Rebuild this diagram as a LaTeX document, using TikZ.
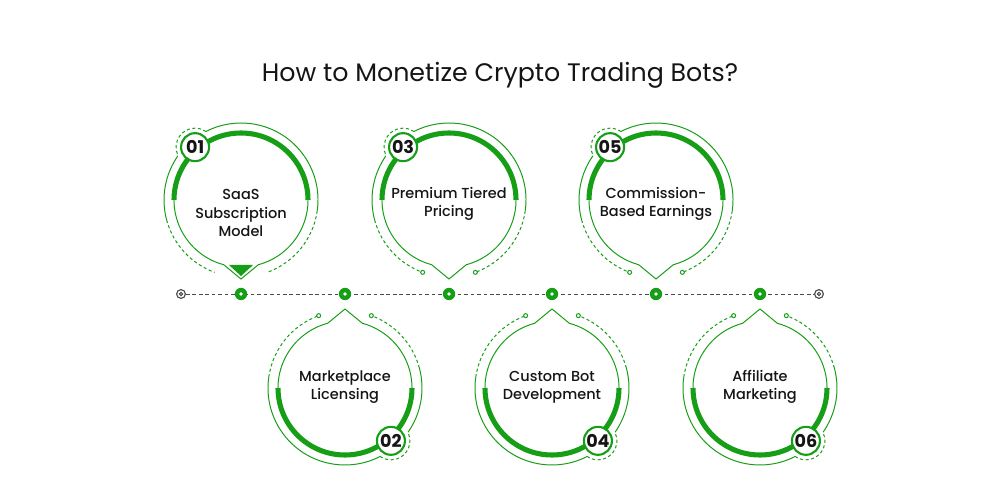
\documentclass[tikz,border=0pt]{standalone}
\usepackage{fontspec}
\setmainfont{Poppins}
\newfontface\medfont{Poppins Medium}
\usetikzlibrary{positioning}
\definecolor{cgreen}{HTML}{169E16}
\definecolor{cink}{HTML}{151515}
\definecolor{cline}{HTML}{4A4A4A}
\tikzset{
  every picture/.style={x=0.025cm, y=0.025cm},
  ring/.style={draw=cgreen, line width=0.7pt},
  ringdash/.style={ring, dash pattern=on 2.2pt off 1.8pt},
  band/.style={draw=cgreen, line width=3.6pt},
  badge/.style={circle, draw=cgreen, fill=white, line width=1.5pt, minimum size=0.7cm, inner sep=0pt,
                font=\bfseries\fontsize{12.5}{12.5}\selectfont, text=cink},
  label/.style={align=center, text=cink, font=\medfont\fontsize{10.3}{12.9}\selectfont},
  title/.style={text=cink, font=\fontsize{18}{21}\selectfont},
  dot/.style={circle, fill=cgreen, minimum size=0.31cm, inner sep=0pt,
              path picture={\fill[white] (path picture bounding box.center) circle (1.4pt);}},
  endmark/.style={circle, draw=cline, line width=0.8pt, minimum size=0.22cm, inner sep=0pt,
                  path picture={\draw[cline, line width=0.7pt] (path picture bounding box.center) circle (1.2pt);}},
  timeline/.style={draw=cline, line width=0.7pt, dash pattern=on 2.6pt off 2pt},
  pics/moneycard/.style n args={2}{code={
    % inner outline with pointer
    \draw[ring] (-75:67) arc[start angle=-75, end angle=255, radius=67] -- (0,-79) -- cycle;
    \draw[band] (0:67) arc[start angle=0, end angle=180, radius=67];
    % outer ring
    \draw[ring] (-8:77) arc[start angle=-8, end angle=117, radius=77];
    \draw[ring] (145:77) arc[start angle=145, end angle=195, radius=77];
    \draw[ringdash] (195:77) arc[start angle=195, end angle=250, radius=77];
    \draw[ringdash] (-8:77) arc[start angle=-8, end angle=-70, radius=77];
    \draw[ringdash] (131:70) ++(55:19) arc[start angle=55, end angle=207, radius=19];
    \ifnum#2=1
      \draw[ring, fill=white] (250:77) circle (2);
      \draw[ring, fill=white] (-70:77) circle (2);
    \else
      \fill[cgreen] (-12,-65) -- (12,-65) -- (0,-76) -- cycle;
    \fi
    \node[badge] (-badge) at (131:70) {#1};
  }},
}

\begin{document}
\begin{tikzpicture}
  \useasboundingbox[fill=white] (0,0) rectangle (1000,500);
  \node[title] (head) at (500,425) {How to Monetize Crypto Trading Bots?};

  % timeline
  \node[endmark] (lend) at (181,206) {};
  \node[endmark] (rend) at (819,206) {};
  \draw[timeline] (lend) -- (rend);
  \foreach \px [count=\i] in {241,345,449,552,656,760}
    \node[dot] (d\i) at (\px,206) {};

  % cards above the line
  \pic (c1) at (241,300) {moneycard={01}{0}};
  \pic (c3) at (449,300) {moneycard={03}{1}};
  \pic (c5) at (656,300) {moneycard={05}{1}};
  % cards below the line
  \pic[rotate=180] (c2) at (345,112) {moneycard={02}{1}};
  \pic[rotate=180] (c4) at (552,112) {moneycard={04}{1}};
  \pic[rotate=180] (c6) at (760,112) {moneycard={06}{1}};

  \node[label] (l1) at (241,287) {SaaS\\Subscription\\Model};
  \node[label] (l3) at (449,296) {Premium Tiered\\Pricing};
  \node[label] (l5) at (656,296) {Commission-\\Based Earnings};
  \node[label] (l2) at (345,113) {Marketplace\\Licensing};
  \node[label] (l4) at (552,113) {Custom Bot\\Development};
  \node[label] (l6) at (760,113) {Affiliate\\Marketing};
\end{tikzpicture}
\end{document}
